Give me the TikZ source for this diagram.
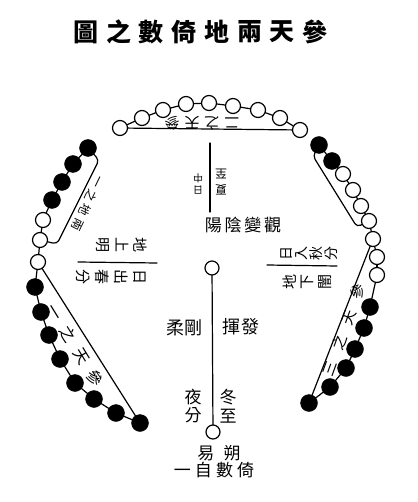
\documentclass[tikz,border=0pt]{standalone}
\usepackage{fontspec}
\usepackage{tikz}
\usepackage{tkz-euclide}
\newfontfamily\cjk{Noto Sans CJK TC}

\begin{document}
\begin{tikzpicture}[x=1pt,y=-1pt,
    title/.style={inner sep=0pt,font=\cjk\bfseries\fontsize{25}{25}\selectfont},
    col/.style 2 args={inner sep=0pt,align=center,font=\cjk\fontsize{#1}{#2}\selectfont},
    row/.style 2 args={inner sep=0pt,font=\cjk\fontsize{#1}{#1}\selectfont\addfontfeature{LetterSpace=#2}}]
        \useasboundingbox (0,0) rectangle (417,502);

        % top: nine beads
        \tkzDefPoint(120,128){T_1}
        \tkzDefPoint(142,118){T_2}
        \tkzDefPoint(163,110){T_3}
        \tkzDefPoint(186,104){T_4}
        \tkzDefPoint(209,103){T_5}
        \tkzDefPoint(233,106){T_6}
        \tkzDefPoint(258,110){T_7}
        \tkzDefPoint(280,118){T_8}
        \tkzDefPoint(300,130){T_9}

        % left side
        \tkzDefPoint(88,148){L_1}
        \tkzDefPoint(73,164){L_2}
        \tkzDefPoint(62,182){L_3}
        \tkzDefPoint(52,200){L_4}
        \tkzDefPoint(43,220){L_5}
        \tkzDefPoint(40,240){L_6}
        \tkzDefPoint(38,262){L_7}
        \tkzDefPoint(99,160){L_a}
        \tkzDefPoint(57,244){L_b}

        \tkzDefPoint(35,287){B_1}
        \tkzDefPoint(41,312){B_2}
        \tkzDefPoint(49,335){B_3}
        \tkzDefPoint(60,359){B_4}
        \tkzDefPoint(75,383){B_5}
        \tkzDefPoint(94,399){B_6}
        \tkzDefPoint(116,413){B_7}
        \tkzDefPoint(140,423){B_8}

        % right side
        \tkzDefPoint(319,145){R_1}
        \tkzDefPoint(332,161){R_2}
        \tkzDefPoint(343,174){R_3}
        \tkzDefPoint(353,190){R_4}
        \tkzDefPoint(361,206){R_5}
        \tkzDefPoint(369,221){R_6}
        \tkzDefPoint(373,239){R_7}
        \tkzDefPoint(377,257){R_8}
        \tkzDefPoint(377,275){R_9}
        \tkzDefPoint(313,156){R_a}
        \tkzDefPoint(357,227){R_b}

        \tkzDefPoint(370,307){S_1}
        \tkzDefPoint(364,328){S_2}
        \tkzDefPoint(355,349){S_3}
        \tkzDefPoint(346,368){S_4}
        \tkzDefPoint(330,387){S_5}
        \tkzDefPoint(309,403){S_6}

        % centre
        \tkzDefPoint(210,143){C_1}
        \tkzDefPoint(210,212){C_2}
        \tkzDefPoint(212,268){O_1}
        \tkzDefPoint(213,432){O_2}
        \tkzDefPoint(78,262){H_1}
        \tkzDefPoint(157,263){H_2}
        \tkzDefPoint(267,265){H_3}
        \tkzDefPoint(337,266){H_4}

        \tkzDrawSegments[line width=1.2pt](T_1,T_2 T_2,T_3 T_3,T_4 T_4,T_5 T_5,T_6 T_6,T_7 T_7,T_8 T_8,T_9 T_1,T_9)
        \tkzDrawSegments[line width=1.2pt](L_1,L_2 L_2,L_3 L_3,L_4 L_4,L_5 L_5,L_6 L_6,L_7 L_7,B_1 B_1,B_2 B_2,B_3 B_3,B_4 B_4,B_5 B_5,B_6 B_6,B_7 B_7,B_8 L_7,B_8)
        \tkzDrawSegments[line width=1.2pt](R_1,R_2 R_2,R_3 R_3,R_4 R_4,R_5 R_5,R_6 R_6,R_7 R_7,R_8 R_8,R_9 R_9,S_1 S_1,S_2 S_2,S_3 S_3,S_4 S_4,S_5 S_5,S_6 R_7,S_6)
        \tkzDrawSegments[line width=1.2pt](C_1,C_2 O_1,O_2 H_1,H_2 H_3,H_4)
        \draw[line width=1.2pt,rounded corners=4pt] (L_1) -- (L_a) -- (L_b) -- (L_6);
        \draw[line width=1.2pt,rounded corners=4pt] (R_1) -- (R_a) -- (R_b) -- (R_6);

        \tkzDrawPoints[size=15,color=black,fill=white,line width=1.2pt](T_1,T_2,T_3,T_4,T_5,T_6,T_7,T_8,T_9,L_5,L_6,L_7,R_3,R_4,R_5,R_6,R_7,R_8,R_9)
        \tkzDrawPoints[size=17,color=black,fill=black](L_1,L_2,L_3,L_4,B_1,B_2,B_3,B_4,B_5,B_6,B_7,B_8,R_1,R_2,S_1,S_2,S_3,S_4,S_5,S_6)
        \tkzDrawPoints[size=14,color=black,fill=white,line width=1.2pt](O_1,O_2)

        % title
        \foreach \c [count=\i] in {圖,之,數,倚,地,兩,天,參}
            \node[title] (title\i) at ({86+32.7*(\i-1)},32) {\c};

        % labels of the groups
        \node[row={15}{33},rotate=180] (topLab) at (202,123) {二之天參};
        \node[row={12}{33},rotate=-116] (ltLab) at (88,203) {一之地兩};
        \node[row={16}{62},rotate=-58.5] (lbLab) at (75,345) {一之天參};
        \node[row={15}{80},rotate=70] (rbLab) at (344,330) {三之天參};

        % centre texts
        \node[col={10}{12},rotate=180] (noon) at (198,184) {日\\中};
        \node[col={12}{16},rotate=180] (summer) at (221,182) {夏\\至};
        \node[row={17}{16}] (guan) at (243,225) {陽陰變觀};
        \node[col={15}{18.5},rotate=-90] (diShang) at (122,245) {地\\上\\明};
        \node[col={15}{19},rotate=-90] (riChu) at (111,277) {日\\出\\春\\分};
        \node[col={14}{15},rotate=90] (riRu) at (309,253) {日\\入\\秋\\分};
        \node[col={15}{17.5},rotate=90] (diXia) at (307,282) {地\\下\\闇};
        \node[row={18}{0}] (rou) at (184,328) {柔剛};
        \node[row={18}{8}] (hui) at (241,327) {揮發};
        \node[col={17}{18.5}] (night) at (193,406) {夜\\分};
        \node[col={17}{18.5}] (winter) at (228,406) {冬\\至};
        \node[row={17}{55}] (shuo) at (219,453) {易朔};
        \node[row={17}{24}] (yi) at (214,470) {一自數倚};
\end{tikzpicture}
\end{document}
